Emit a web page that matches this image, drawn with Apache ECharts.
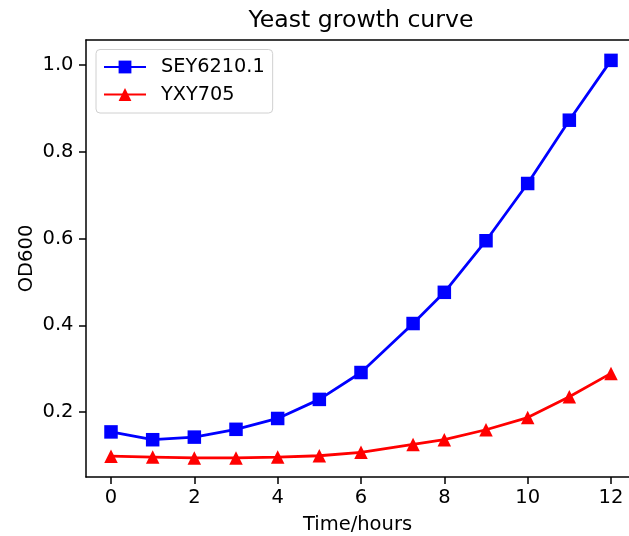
<!DOCTYPE html>
<html>
<head>
<meta charset="utf-8">
<script src="https://cdn.jsdelivr.net/npm/echarts@6/dist/echarts.min.js"></script>
<style>
html,body{margin:0;padding:0;background:#fff;}
#main{width:629px;height:536px;}
</style>
</head>
<body>
<div id="main"></div>
<script>
var hours=[0,1,2,3,4,5,6,7.25,8,9,10,11,12];
var sey=[0.154,0.136,0.142,0.160,0.185,0.229,0.291,0.404,0.476,0.595,0.727,0.873,1.011];
var yxy=[0.098,0.096,0.094,0.094,0.096,0.099,0.107,0.125,0.136,0.159,0.187,0.235,0.289];
var xTicks=[0,2,4,6,8,10,12];
var yTicks=[0.2,0.4,0.6,0.8,1.0];

var font='DejaVu Sans';
var myChart=echarts.init(document.getElementById('main'));

function pairs(xs,ys){
	var out=[];
	for(var i=0;i<xs.length;i++){
		out.push([xs[i],ys[i]]);
	}
	return out;
}

// the right spine is off the picture, so the grid runs to the edge
var xMin=-0.6, xMax=12.432;

myChart.setOption({
	animation:false,
	backgroundColor:'#fff',
	title:{
		text:'Yeast growth curve',
		left:361,
		top:8.5,
		padding:0,
		textAlign:'center',
		textStyle:{fontFamily:font,fontSize:23.6,fontWeight:'normal',color:'#000'}
	},
	legend:{
		orient:'vertical',
		left:96,
		top:49.5,
		padding:[8,8,9,7],
		itemWidth:42,
		itemHeight:16,
		itemGap:8.5,
		backgroundColor:'#fff',
		borderColor:'#d0d0d0',
		borderWidth:1,
		borderRadius:4,
		textStyle:{fontFamily:font,fontSize:19.3,color:'#000',padding:[0,0,0,10]},
		data:['SEY6210.1','YXY705']
	},
	grid:{
		left:86,
		top:40,
		right:0,
		bottom:59,
		outerBoundsMode:'none',
		show:false
	},
	xAxis:[{
		type:'value',
		min:xMin,
		max:xMax,
		name:'Time/hours',
		nameLocation:'middle',
		nameGap:37.5,
		nameMoveOverlap:false,
		nameTextStyle:{fontFamily:font,fontSize:19.5,color:'#000'},
		axisLine:{show:true,onZero:false,lineStyle:{color:'#000',width:1.5}},
		axisTick:{show:true,length:7,customValues:xTicks,lineStyle:{color:'#000',width:1.5}},
		axisLabel:{margin:11,fontFamily:font,fontSize:19.5,color:'#000',customValues:xTicks},
		splitLine:{show:false}
	},{
		type:'value',
		position:'top',
		min:xMin,
		max:xMax,
		axisLine:{show:true,onZero:false,lineStyle:{color:'#000',width:1.5}},
		axisTick:{show:false},
		axisLabel:{show:false},
		splitLine:{show:false}
	}],
	yAxis:{
		type:'value',
		min:0.05,
		max:1.058,
		name:'OD600',
		nameLocation:'middle',
		nameGap:49,
		nameMoveOverlap:false,
		nameTextStyle:{fontFamily:font,fontSize:19.5,color:'#000'},
		axisLine:{show:true,onZero:false,lineStyle:{color:'#000',width:1.5}},
		axisTick:{show:true,length:7,customValues:yTicks,lineStyle:{color:'#000',width:1.5}},
		axisLabel:{margin:12.5,fontFamily:font,fontSize:19.5,color:'#000',customValues:yTicks,
			formatter:function(v){return v.toFixed(1);}},
		splitLine:{show:false}
	},
	series:[{
		name:'SEY6210.1',
		type:'line',
		xAxisIndex:0,
		data:pairs(hours,sey),
		symbol:'rect',
		symbolSize:13.5,
		itemStyle:{color:'#0000ff'},
		lineStyle:{color:'#0000ff',width:2.8}
	},{
		name:'YXY705',
		type:'line',
		xAxisIndex:0,
		data:pairs(hours,yxy),
		symbol:'triangle',
		symbolSize:13.5,
		itemStyle:{color:'#ff0000'},
		lineStyle:{color:'#ff0000',width:2.8}
	}]
});
</script>
</body>
</html>
